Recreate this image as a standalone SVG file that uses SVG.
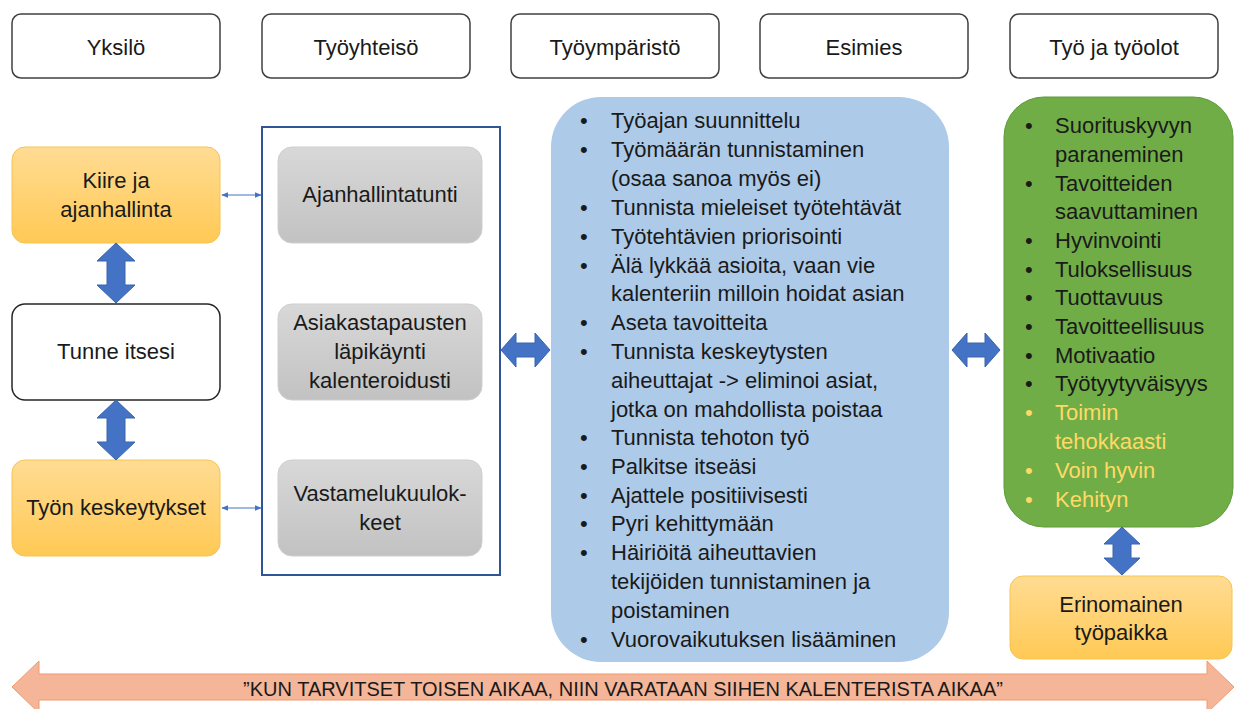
<svg xmlns="http://www.w3.org/2000/svg" width="1241" height="709" viewBox="0 0 1241 709">
<defs>
<linearGradient id="gOrange" x1="0" y1="0" x2="0" y2="1"><stop offset="0" stop-color="#FFDC94"/><stop offset="1" stop-color="#FFC954"/></linearGradient>
<linearGradient id="gGrey" x1="0" y1="0" x2="0" y2="1"><stop offset="0" stop-color="#D8D8D8"/><stop offset="1" stop-color="#C2C2C2"/></linearGradient>
<marker id="mArr" viewBox="0 0 10 10" refX="9" refY="5" markerWidth="7" markerHeight="7" orient="auto-start-reverse" markerUnits="userSpaceOnUse"><path d="M0,1 L10,5 L0,9 Z" fill="#4472C4"/></marker>
<style>
text{font-family:"Liberation Sans",Arial,sans-serif;font-size:22px;fill:#1a1a1a}
.c{text-anchor:middle}
.hdr{fill:#fff;stroke:#404040;stroke-width:1.5}
.org{fill:url(#gOrange);stroke:#F6C453;stroke-width:1}
.gry{fill:url(#gGrey);stroke:#CFCFCF;stroke-width:1}
.barrow{fill:#4472C4;stroke:#3A64AE;stroke-width:1}
.thin{stroke:#4472C4;stroke-width:1.2;fill:none}
.y{fill:#FFD966}
</style>
</defs>
<rect width="1241" height="709" fill="#fff"/>

<g id="hdr-yksilo"><rect class="hdr" x="12" y="14" width="208" height="64" rx="9"/><text class="c" x="116" y="55">Yksilö</text></g>
<g id="hdr-tyoyhteiso"><rect class="hdr" x="262" y="14" width="208" height="64" rx="9"/><text class="c" x="366" y="55">Työyhteisö</text></g>
<g id="hdr-tyoymparisto"><rect class="hdr" x="511" y="14" width="208" height="64" rx="9"/><text class="c" x="615" y="55">Työympäristö</text></g>
<g id="hdr-esimies"><rect class="hdr" x="760" y="14" width="208" height="64" rx="9"/><text class="c" x="864" y="55">Esimies</text></g>
<g id="hdr-tyo"><rect class="hdr" x="1010" y="14" width="208" height="64" rx="9"/><text class="c" x="1114" y="55">Työ ja työolot</text></g>

<g id="n-kiire"><rect class="org" x="12" y="147" width="208" height="96" rx="13"/><text class="c" x="116" y="188">Kiire ja</text><text class="c" x="116" y="217">ajanhallinta</text></g>
<g id="n-tunne"><rect x="12" y="304" width="208" height="96" rx="13" fill="#fff" stroke="#262626" stroke-width="1.5"/><text class="c" x="116" y="359">Tunne itsesi</text></g>
<g id="n-keskeytykset"><rect class="org" x="12" y="460" width="208" height="96" rx="13"/><text class="c" x="116" y="515">Työn keskeytykset</text></g>

<g id="n-group"><rect x="262" y="127" width="238" height="448" fill="none" stroke="#2F5597" stroke-width="2"/></g>
<g id="n-ajanhallintatunti"><rect class="gry" x="278" y="147" width="204" height="96" rx="14"/><text class="c" x="380" y="202">Ajanhallintatunti</text></g>
<g id="n-asiakas"><rect class="gry" x="278" y="304" width="204" height="96" rx="14"/><text class="c" x="380" y="330">Asiakastapausten</text><text class="c" x="380" y="359">läpikäynti</text><text class="c" x="380" y="388">kalenteroidusti</text></g>
<g id="n-vastamelu"><rect class="gry" x="278" y="460" width="204" height="96" rx="14"/><text class="c" x="380" y="501">Vastamelukuulok-</text><text class="c" x="380" y="530">keet</text></g>

<g id="n-tyoymparisto-list"><rect x="551" y="97" width="398" height="565" rx="50" fill="#ADCAE9"/>
<g>
<text x="580" y="128">•</text><text x="611" y="128">Työajan suunnittelu</text>
<text x="580" y="157">•</text><text x="611" y="157">Työmäärän tunnistaminen</text>
<text x="611" y="186">(osaa sanoa myös ei)</text>
<text x="580" y="215">•</text><text x="611" y="215">Tunnista mieleiset työtehtävät</text>
<text x="580" y="244">•</text><text x="611" y="244">Työtehtävien priorisointi</text>
<text x="580" y="273">•</text><text x="611" y="273">Älä lykkää asioita, vaan vie</text>
<text x="611" y="301">kalenteriin milloin hoidat asian</text>
<text x="580" y="330">•</text><text x="611" y="330">Aseta tavoitteita</text>
<text x="580" y="359">•</text><text x="611" y="359">Tunnista keskeytysten</text>
<text x="611" y="388">aiheuttajat -&gt; eliminoi asiat,</text>
<text x="611" y="417">jotka on mahdollista poistaa</text>
<text x="580" y="445">•</text><text x="611" y="445">Tunnista tehoton työ</text>
<text x="580" y="474">•</text><text x="611" y="474">Palkitse itseäsi</text>
<text x="580" y="503">•</text><text x="611" y="503">Ajattele positiivisesti</text>
<text x="580" y="531">•</text><text x="611" y="531">Pyri kehittymään</text>
<text x="580" y="560">•</text><text x="611" y="560">Häiriöitä aiheuttavien</text>
<text x="611" y="589">tekijöiden tunnistaminen ja</text>
<text x="611" y="618">poistaminen</text>
<text x="580" y="647">•</text><text x="611" y="647">Vuorovaikutuksen lisääminen</text>
</g></g>

<g id="n-tulokset"><rect x="1004" y="97" width="229" height="430" rx="40" fill="#70AD47" stroke="#5E9A3A" stroke-width="1"/>
<text x="1025" y="133">•</text><text x="1055" y="133">Suorituskyvyn</text>
<text x="1055" y="162">paraneminen</text>
<text x="1025" y="191">•</text><text x="1055" y="191">Tavoitteiden</text>
<text x="1055" y="219">saavuttaminen</text>
<text x="1025" y="248">•</text><text x="1055" y="248">Hyvinvointi</text>
<text x="1025" y="277">•</text><text x="1055" y="277">Tuloksellisuus</text>
<text x="1025" y="305">•</text><text x="1055" y="305">Tuottavuus</text>
<text x="1025" y="334">•</text><text x="1055" y="334">Tavoitteellisuus</text>
<text x="1025" y="363">•</text><text x="1055" y="363">Motivaatio</text>
<text x="1025" y="391">•</text><text x="1055" y="391">Työtyytyväisyys</text>
<text class="y" x="1025" y="420">•</text><text class="y" x="1055" y="420">Toimin</text>
<text class="y" x="1055" y="449">tehokkaasti</text>
<text class="y" x="1025" y="478">•</text><text class="y" x="1055" y="478">Voin hyvin</text>
<text class="y" x="1025" y="507">•</text><text class="y" x="1055" y="507">Kehityn</text>
</g>

<g id="n-erinomainen"><rect class="org" x="1010" y="576" width="222" height="83" rx="13"/><text class="c" x="1121" y="612">Erinomainen</text><text class="c" x="1121" y="640">työpaikka</text></g>

<g id="connectors">
<path class="barrow" d="M116,243 L135,261 L125,261 L125,285 L135,285 L116,303 L97,285 L107,285 L107,261 L97,261 Z"/>
<path class="barrow" d="M116,400 L135,418 L125,418 L125,442 L135,442 L116,460 L97,442 L107,442 L107,418 L97,418 Z"/>
<path class="barrow" d="M1122,527 L1140,544 L1131,544 L1131,558 L1140,558 L1122,575 L1104,558 L1113,558 L1113,544 L1104,544 Z"/>
<path class="barrow" d="M501,350 L516,333 L516,343 L535,343 L535,333 L550,350 L535,367 L535,357 L516,357 L516,367 Z"/>
<path class="barrow" d="M952,350 L967,333 L967,343 L985,343 L985,333 L1000,350 L985,367 L985,357 L967,357 L967,367 Z"/>
<line class="thin" x1="222" y1="195" x2="261" y2="195" marker-start="url(#mArr)" marker-end="url(#mArr)"/>
<line class="thin" x1="222" y1="508" x2="261" y2="508" marker-start="url(#mArr)" marker-end="url(#mArr)"/>
</g>

<g id="n-banner">
<path d="M12,687 L39,661 L39,674 L1207,674 L1207,661 L1234,687 L1207,713 L1207,700 L39,700 L39,713 Z" fill="#F5B598" stroke="#F19A6F" stroke-width="1"/>
<text class="c" x="623" y="696" style="font-size:20px">”KUN TARVITSET TOISEN AIKAA, NIIN VARATAAN SIIHEN KALENTERISTA AIKAA”</text>
</g>
</svg>
